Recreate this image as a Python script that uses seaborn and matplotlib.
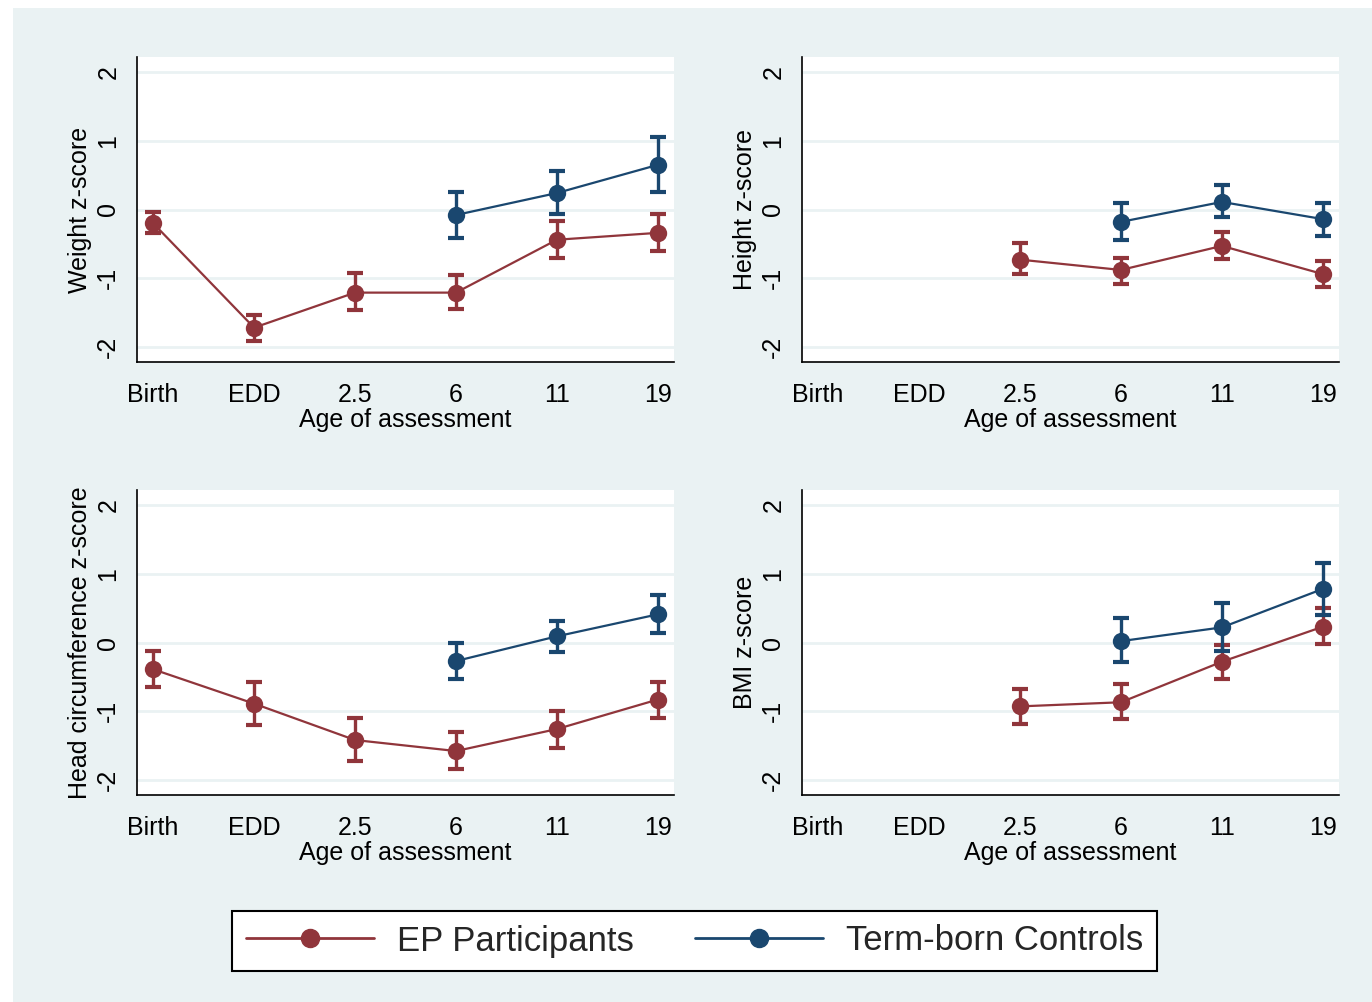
import numpy as np
import pandas as pd
import matplotlib
matplotlib.use("Agg")
import matplotlib.pyplot as plt
import seaborn as sns
from matplotlib.lines import Line2D
from matplotlib.patches import Rectangle

# x categories (ages of assessment)
ages = ["Birth", "EDD", "2.5", "6", "11", "19"]
groups = ["EP Participants", "Term-born Controls"]

nan = np.nan

# Weight z-score: mean, lower CI, upper CI
weight_ep = [-0.20, -1.72, -1.21, -1.21, -0.44, -0.34]
weight_ep_lo = [-0.34, -1.91, -1.47, -1.45, -0.70, -0.60]
weight_ep_hi = [-0.04, -1.53, -0.93, -0.95, -0.17, -0.07]
weight_tc = [nan, nan, nan, -0.08, 0.24, 0.65]
weight_tc_lo = [nan, nan, nan, -0.41, -0.07, 0.26]
weight_tc_hi = [nan, nan, nan, 0.25, 0.56, 1.05]

# Height z-score
height_ep = [nan, nan, -0.73, -0.88, -0.53, -0.94]
height_ep_lo = [nan, nan, -0.94, -1.09, -0.72, -1.13]
height_ep_hi = [nan, nan, -0.49, -0.70, -0.33, -0.75]
height_tc = [nan, nan, nan, -0.18, 0.11, -0.14]
height_tc_lo = [nan, nan, nan, -0.44, -0.11, -0.38]
height_tc_hi = [nan, nan, nan, 0.09, 0.35, 0.10]

# Head circumference z-score
head_ep = [-0.39, -0.89, -1.42, -1.58, -1.26, -0.83]
head_ep_lo = [-0.65, -1.20, -1.73, -1.84, -1.54, -1.10]
head_ep_hi = [-0.13, -0.58, -1.10, -1.30, -0.99, -0.58]
head_tc = [nan, nan, nan, -0.27, 0.09, 0.41]
head_tc_lo = [nan, nan, nan, -0.53, -0.14, 0.14]
head_tc_hi = [nan, nan, nan, 0.00, 0.32, 0.69]

# BMI z-score
bmi_ep = [nan, nan, -0.93, -0.87, -0.28, 0.23]
bmi_ep_lo = [nan, nan, -1.19, -1.12, -0.53, -0.02]
bmi_ep_hi = [nan, nan, -0.67, -0.61, -0.03, 0.50]
bmi_tc = [nan, nan, nan, 0.02, 0.22, 0.78]
bmi_tc_lo = [nan, nan, nan, -0.29, -0.13, 0.40]
bmi_tc_hi = [nan, nan, nan, 0.35, 0.57, 1.16]

panels = [
    ("Weight z-score", (weight_ep, weight_ep_lo, weight_ep_hi), (weight_tc, weight_tc_lo, weight_tc_hi)),
    ("Height z-score", (height_ep, height_ep_lo, height_ep_hi), (height_tc, height_tc_lo, height_tc_hi)),
    ("Head circumference z-score", (head_ep, head_ep_lo, head_ep_hi), (head_tc, head_tc_lo, head_tc_hi)),
    ("BMI z-score", (bmi_ep, bmi_ep_lo, bmi_ep_hi), (bmi_tc, bmi_tc_lo, bmi_tc_hi)),
]

red = "#90353B"
navy = "#1A476F"
bg = "#EAF2F3"

sns.set_theme(style="white")
plt.rcParams["font.family"] = ["Liberation Sans", "DejaVu Sans"]
plt.rcParams["axes.unicode_minus"] = False

W, H = 1372, 1002
fig = plt.figure(figsize=(W / 100, H / 100), dpi=100, facecolor="white")
fig.patches.append(Rectangle((13 / W, 0), 1, 1 - 8 / H, transform=fig.transFigure,
                             facecolor=bg, edgecolor="none", zorder=-10))

# axes boxes in pixels: left, top, right, bottom
boxes = [(137, 57, 674, 362), (802, 57, 1339, 362),
         (137, 490, 674, 795), (802, 490, 1339, 795)]

for (ylab, ep, tc), (l, t, r, b) in zip(panels, boxes):
    ax = fig.add_axes([l / W, 1 - b / H, (r - l) / W, (b - t) / H])
    ax.set_facecolor("white")

    rows = []
    for g, (m, lo, hi) in zip(groups, [ep, tc]):
        for i in range(len(ages)):
            if not np.isnan(m[i]):
                rows.append({"pos": i, "z": m[i], "lo": lo[i], "hi": hi[i], "group": g})
    df = pd.DataFrame(rows)

    for g, c in zip(groups, [red, navy]):
        d = df[df.group == g]
        ax.errorbar(d.pos, d.z, yerr=[d.z - d.lo, d.hi - d.z], fmt="none",
                    ecolor=c, elinewidth=2.4, capsize=5.5, capthick=3, zorder=2)

    sns.lineplot(data=df, x="pos", y="z", hue="group", hue_order=groups,
                 palette=[red, navy], marker="o", markersize=12.5, markeredgewidth=0,
                 linewidth=1.6, legend=False, errorbar=None, ax=ax, zorder=3)

    ax.set_xlim(-0.16, 5.16)
    ax.set_ylim(-2.22, 2.22)
    ax.set_xticks(range(len(ages)))
    ax.set_xticklabels(ages)
    ax.set_yticks([-2, -1, 0, 1, 2])
    ax.set_yticklabels(["-2", "-1", "0", "1", "2"], rotation=90, va="center")
    ax.yaxis.grid(True, color=bg, linewidth=2)
    ax.xaxis.grid(False)
    ax.set_axisbelow(True)

    for s in ["top", "right"]:
        ax.spines[s].set_visible(False)
    for s in ["left", "bottom"]:
        ax.spines[s].set_color("black")
        ax.spines[s].set_linewidth(1.2)
    ax.tick_params(axis="x", direction="out", length=7, width=1.2, color="black",
                   labelsize=18, pad=8, labelcolor="black")
    ax.tick_params(axis="y", direction="out", length=7, width=1.2, color="black",
                   labelsize=18, pad=5, labelcolor="black")
    ax.set_xlabel("Age of assessment", fontsize=18, labelpad=1, color="black")
    ax.set_ylabel(ylab, fontsize=18, labelpad=3, color="black")

handles = [Line2D([], [], color=red, lw=2, marker="o", markersize=13),
           Line2D([], [], color=navy, lw=2, marker="o", markersize=13)]
leg = fig.legend(handles, groups, loc="center left", bbox_to_anchor=(232 / W, 1 - 941 / H),
                 ncol=2, fontsize=25, frameon=True, fancybox=False, handlelength=3.7,
                 columnspacing=1.75, borderpad=0.4, handletextpad=0.66, borderaxespad=0)
leg.get_frame().set_edgecolor("black")
leg.get_frame().set_linewidth(1.5)
leg.get_frame().set_facecolor("white")
leg.get_frame().set_alpha(1)

fig.savefig("out.png", dpi=100, facecolor=fig.get_facecolor())
